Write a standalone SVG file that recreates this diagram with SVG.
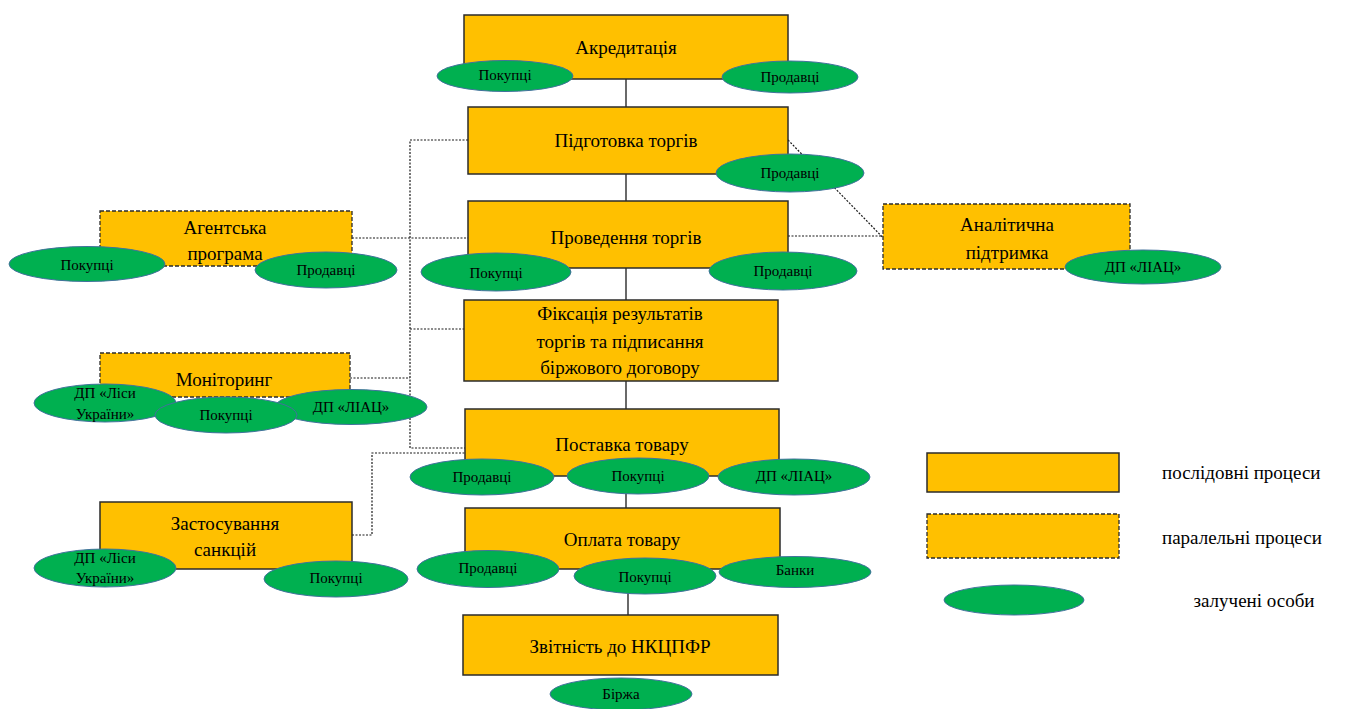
<svg xmlns="http://www.w3.org/2000/svg" width="1352" height="709" viewBox="0 0 1352 709">
<style>
.box{fill:#FFC000;stroke:#2b2b2b;stroke-width:1.5}
.dbox{fill:#FFC000;stroke:#2b2b2b;stroke-width:1.3;stroke-dasharray:4 2}
.ell{fill:#00B050;stroke:#41719C;stroke-width:1}
.solid{stroke:#1a1a1a;stroke-width:1.3;fill:none}
.dot{stroke:#1a1a1a;stroke-width:1.2;fill:none;stroke-dasharray:2 1.5}
</style>
<rect width="1352" height="709" fill="#ffffff"/>
<g id="connectors">
<line class="solid" x1="626" y1="79" x2="626" y2="107"/>
<line class="solid" x1="626" y1="174" x2="626" y2="201"/>
<line class="solid" x1="626" y1="268" x2="626" y2="300"/>
<line class="solid" x1="626" y1="381" x2="626" y2="409"/>
<line class="solid" x1="626" y1="476" x2="626" y2="508"/>
<line class="solid" x1="628" y1="569" x2="628" y2="615"/>
<polyline class="dot" points="468,140 410,140 410,448 465,448"/>
<line class="dot" x1="352" y1="238" x2="468" y2="238"/>
<line class="dot" x1="410" y1="329" x2="464" y2="329"/>
<line class="dot" x1="350" y1="378" x2="410" y2="378"/>
<polyline class="dot" points="352,535 372,535 372,453 465,453"/>
<line class="dot" x1="788" y1="236" x2="883" y2="236"/>
<line class="dot" x1="788" y1="140" x2="897" y2="252" stroke-width="1.6"/>
</g>
<g id="akredytatsiia">
<rect class="box" x="464" y="15" width="324" height="64"/>
<text font-family="Liberation Serif" font-size="19" text-anchor="middle" x="626" y="54">Акредитація</text>
<ellipse class="ell" cx="505" cy="76" rx="68" ry="15.5"/>
<text font-family="Liberation Serif" font-size="15" text-anchor="middle" x="505" y="80">Покупці</text>
<ellipse class="ell" cx="790" cy="77" rx="68" ry="16"/>
<text font-family="Liberation Serif" font-size="15" text-anchor="middle" x="790" y="82">Продавці</text>
</g>
<g id="pidhotovka">
<rect class="box" x="468" y="107" width="320" height="67"/>
<text font-family="Liberation Serif" font-size="19" text-anchor="middle" x="626" y="147">Підготовка торгів</text>
<ellipse class="ell" cx="790" cy="173" rx="74" ry="19"/>
<text font-family="Liberation Serif" font-size="15" text-anchor="middle" x="790" y="178">Продавці</text>
</g>
<g id="provedennia">
<rect class="box" x="468" y="201" width="320" height="67"/>
<text font-family="Liberation Serif" font-size="19" text-anchor="middle" x="626" y="244">Проведення торгів</text>
<ellipse class="ell" cx="496" cy="272" rx="75" ry="19"/>
<text font-family="Liberation Serif" font-size="15" text-anchor="middle" x="496" y="278">Покупці</text>
<ellipse class="ell" cx="783" cy="271" rx="74" ry="19"/>
<text font-family="Liberation Serif" font-size="15" text-anchor="middle" x="783" y="276">Продавці</text>
</g>
<g id="fiksatsiia">
<rect class="box" x="464" y="300" width="314" height="81"/>
<text font-family="Liberation Serif" font-size="19" text-anchor="middle" x="620" y="320">Фіксація результатів</text>
<text font-family="Liberation Serif" font-size="19" text-anchor="middle" x="620" y="348">торгів та підписання</text>
<text font-family="Liberation Serif" font-size="19" text-anchor="middle" x="620" y="374">біржового договору</text>
</g>
<g id="postavka">
<rect class="box" x="465" y="409" width="314" height="67"/>
<text font-family="Liberation Serif" font-size="19" text-anchor="middle" x="622" y="451">Поставка товару</text>
<ellipse class="ell" cx="482" cy="477" rx="72" ry="18"/>
<text font-family="Liberation Serif" font-size="15" text-anchor="middle" x="482" y="482">Продавці</text>
<ellipse class="ell" cx="638" cy="476" rx="71" ry="18"/>
<text font-family="Liberation Serif" font-size="15" text-anchor="middle" x="638" y="481">Покупці</text>
<ellipse class="ell" cx="794" cy="477" rx="76" ry="18"/>
<text font-family="Liberation Serif" font-size="15" text-anchor="middle" x="794" y="481">ДП «ЛІАЦ»</text>
</g>
<g id="oplata">
<rect class="box" x="465" y="508" width="315" height="61"/>
<text font-family="Liberation Serif" font-size="19" text-anchor="middle" x="622" y="546">Оплата товару</text>
<ellipse class="ell" cx="488" cy="569" rx="71" ry="18.5"/>
<text font-family="Liberation Serif" font-size="15" text-anchor="middle" x="488" y="573">Продавці</text>
<ellipse class="ell" cx="645" cy="576" rx="71" ry="18"/>
<text font-family="Liberation Serif" font-size="15" text-anchor="middle" x="645" y="582">Покупці</text>
<ellipse class="ell" cx="795" cy="572" rx="76" ry="15.5"/>
<text font-family="Liberation Serif" font-size="15" text-anchor="middle" x="795" y="575">Банки</text>
</g>
<g id="zvitnist">
<rect class="box" x="463" y="615" width="315" height="60"/>
<text font-family="Liberation Serif" font-size="19" text-anchor="middle" x="620" y="653">Звітність до НКЦПФР</text>
<ellipse class="ell" cx="621" cy="694" rx="71" ry="16"/>
<text font-family="Liberation Serif" font-size="15" text-anchor="middle" x="621" y="699">Біржа</text>
</g>
<g id="ahentska">
<rect class="dbox" x="100" y="211" width="252" height="55"/>
<text font-family="Liberation Serif" font-size="19" text-anchor="middle" x="225" y="234">Агентська</text>
<text font-family="Liberation Serif" font-size="19" text-anchor="middle" x="225" y="260">програма</text>
<ellipse class="ell" cx="87" cy="264" rx="78" ry="17.5"/>
<text font-family="Liberation Serif" font-size="15" text-anchor="middle" x="87" y="270">Покупці</text>
<ellipse class="ell" cx="326" cy="270" rx="71" ry="18"/>
<text font-family="Liberation Serif" font-size="15" text-anchor="middle" x="326" y="275">Продавці</text>
</g>
<g id="monitorynh">
<rect class="dbox" x="100" y="353" width="250" height="44"/>
<text font-family="Liberation Serif" font-size="19" text-anchor="middle" x="224" y="386">Моніторинг</text>
<ellipse class="ell" cx="105" cy="403" rx="71" ry="19"/>
<text font-family="Liberation Serif" font-size="15" text-anchor="middle" x="105" y="398">ДП «Ліси</text>
<text font-family="Liberation Serif" font-size="15" text-anchor="middle" x="105" y="419">України»</text>
<ellipse class="ell" cx="351" cy="407" rx="76" ry="17.5"/>
<text font-family="Liberation Serif" font-size="15" text-anchor="middle" x="351" y="412">ДП «ЛІАЦ»</text>
<ellipse class="ell" cx="226" cy="415" rx="71" ry="18"/>
<text font-family="Liberation Serif" font-size="15" text-anchor="middle" x="226" y="420">Покупці</text>
</g>
<g id="zastosuvannia">
<rect class="box" x="100" y="502" width="252" height="67"/>
<text font-family="Liberation Serif" font-size="19" text-anchor="middle" x="225" y="530">Застосування</text>
<text font-family="Liberation Serif" font-size="19" text-anchor="middle" x="225" y="556">санкцій</text>
<ellipse class="ell" cx="105" cy="568" rx="71" ry="19"/>
<text font-family="Liberation Serif" font-size="15" text-anchor="middle" x="105" y="563">ДП «Ліси</text>
<text font-family="Liberation Serif" font-size="15" text-anchor="middle" x="105" y="583">України»</text>
<ellipse class="ell" cx="336" cy="579" rx="72" ry="18"/>
<text font-family="Liberation Serif" font-size="15" text-anchor="middle" x="336" y="583">Покупці</text>
</g>
<g id="analitychna">
<rect class="dbox" x="883" y="204" width="247" height="65"/>
<text font-family="Liberation Serif" font-size="19" text-anchor="middle" x="1007" y="231">Аналітична</text>
<text font-family="Liberation Serif" font-size="19" text-anchor="middle" x="1007" y="259">підтримка</text>
<ellipse class="ell" cx="1143" cy="267" rx="78" ry="17"/>
<text font-family="Liberation Serif" font-size="15" text-anchor="middle" x="1143" y="272">ДП «ЛІАЦ»</text>
</g>
<g id="legend">
<rect class="box" x="927" y="453" width="192" height="39"/>
<text font-family="Liberation Serif" font-size="19" x="1162" y="479">послідовні процеси</text>
<rect class="dbox" x="927" y="514" width="192" height="44"/>
<text font-family="Liberation Serif" font-size="19" x="1162" y="544">паралельні процеси</text>
<ellipse class="ell" cx="1014" cy="600" rx="70" ry="15"/>
<text font-family="Liberation Serif" font-size="19" text-anchor="middle" x="1254" y="607">залучені особи</text>
</g>
</svg>
